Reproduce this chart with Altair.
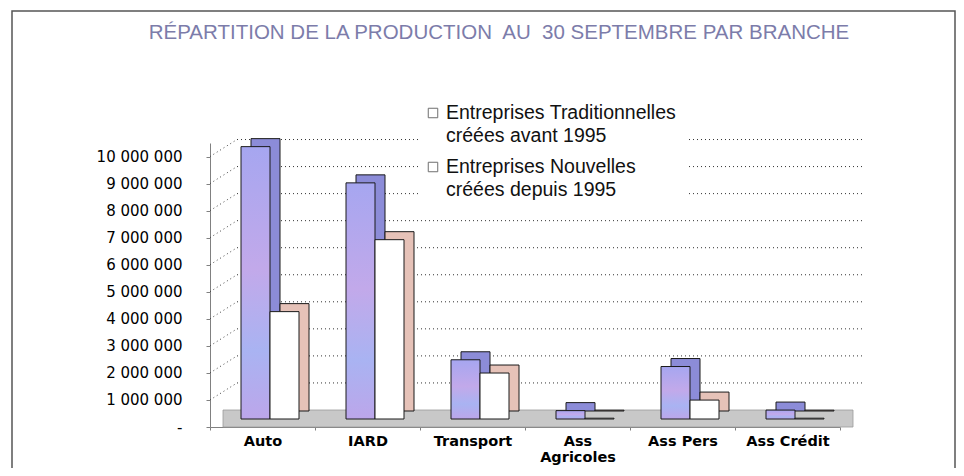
import altair as alt
import pandas as pd

# ---- data ----
categories = ["Auto", "IARD", "Transport", "Ass Agricoles", "Ass Pers", "Ass Crédit"]
traditionnelles = [10070000, 8730000, 2190000, 310000, 1940000, 330000]
nouvelles = [3970000, 6630000, 1700000, 30000, 700000, 30000]
tick_values = [0, 1000000, 2000000, 3000000, 4000000, 5000000,
               6000000, 7000000, 8000000, 9000000, 10000000]
title_text = "RÉPARTITION DE LA PRODUCTION\u00a0 AU\u00a0 30 SEPTEMBRE PAR BRANCHE"
legend_lines_1 = ["Entreprises Traditionnelles", "créées avant 1995"]
legend_lines_2 = ["Entreprises Nouvelles", "créées depuis 1995"]

df_t = pd.DataFrame({"cat": categories, "value": traditionnelles})
df_n = pd.DataFrame({"cat": categories, "value": nouvelles})
df_grid = pd.DataFrame({"value": tick_values[1:]})

W, H = 630, 284

xscale = alt.Scale(domain=categories, paddingInner=0, paddingOuter=0)
yscale = alt.Scale(domain=[0, 10500000], nice=False, zero=True)

xaxis = alt.Axis(title=None, labelAngle=0, labelFont="DejaVu Sans", labelFontWeight="bold",
                 labelFontSize=14.5, labelColor="black", labelPadding=4, tickBand="extent",
                 tickSize=3, tickColor="#808080", domainColor="#808080", grid=False,
                 labelLineHeight=16.5,
                 labelExpr="datum.value == 'Ass Agricoles' ? ['Ass', 'Agricoles'] : datum.value")
yaxis = alt.Axis(title=None, values=tick_values, grid=False, labelFont="DejaVu Sans",
                 labelFontSize=15, labelColor="black", labelPadding=24, tickSize=4,
                 tickColor="#808080", domainColor="#808080",
                 labelExpr="datum.value == 0 ? '-' : replace(replace(format(datum.value, ',d'), ',', ' '), ',', ' ')")

X = alt.X("cat:N", scale=xscale, axis=xaxis, sort=categories)
Y = alt.Y("value:Q", scale=yscale, axis=yaxis)

DX, DY = 27, -17   # back-wall offset
BW = 29            # bar width
BX, BY = 10, -8    # bar depth

one = pd.DataFrame({"a": [0]})

# frame around chart
frame = alt.Chart(one).mark_rect(
    fill="white", fillOpacity=0, stroke="#555555", strokeWidth=1.5
).encode(x=alt.value(-198), x2=alt.value(745), y=alt.value(-132), y2=alt.value(400))

# side wall diagonal gridlines
side_grid = alt.Chart(df_grid).mark_rule(
    color="#444444", strokeDash=[1, 3], strokeWidth=1, y2Offset=DY
).encode(x=alt.value(0), x2=alt.value(DX), y=Y, y2="value:Q")

# back wall gridlines
back_grid = alt.Chart(df_grid).mark_rule(
    color="#333333", strokeDash=[1, 3], strokeWidth=1, yOffset=DY
).encode(x=alt.value(DX), x2=alt.value(W + 25), y=Y)

# floor
floor = alt.Chart(one).mark_rect(
    fill="#c8c8c8", stroke="#9a9a9a", strokeWidth=0.8
).encode(x=alt.value(13), x2=alt.value(W + 13), y=alt.value(H + DY), y2=alt.value(H))

# legend background
leg_bg = alt.Chart(one).mark_rect(fill="white").encode(
    x=alt.value(210), x2=alt.value(476), y=alt.value(-48), y2=alt.value(62))

blue_grad = alt.LinearGradient(
    gradient="linear", x1=0, x2=0, y1=0, y2=1,
    stops=[alt.GradientStop(color="#a6a6f0", offset=0),
           alt.GradientStop(color="#c2a9ea", offset=0.45),
           alt.GradientStop(color="#a9b3f2", offset=0.75),
           alt.GradientStop(color="#bca6ea", offset=1)])


def bar_layer(df, fill, xoff, yoff):
    return alt.Chart(df).mark_bar(
        width=BW, fill=fill, stroke="#1a1a1a", strokeWidth=1,
        xOffset=xoff, x2Offset=xoff, yOffset=yoff, y2Offset=yoff
    ).encode(x=X, y=Y)


blue_depth = bar_layer(df_t, "#8c8cd8", -7 + BX, -8 + BY)
blue_front = bar_layer(df_t, blue_grad, -7, -8)
white_depth = bar_layer(df_n, "#e6c2b8", 22 + BX, -8 + BY)
white_front = bar_layer(df_n, "#ffffff", 22, -8)

# manual legend
legend_layers = []
for lines, y0 in [(legend_lines_1, -30), (legend_lines_2, 24)]:
    legend_layers.append(
        alt.Chart(one).mark_square(size=90, filled=False, stroke="#333333", strokeWidth=1)
        .encode(x=alt.value(223), y=alt.value(y0)))
    for i, line in enumerate(lines):
        legend_layers.append(
            alt.Chart(pd.DataFrame({"t": [line]})).mark_text(
                align="left", baseline="middle", font="Liberation Sans", fontSize=19.5,
                color="#111111"
            ).encode(x=alt.value(236), y=alt.value(y0 + i * 23), text="t:N"))

title = alt.Chart(pd.DataFrame({"t": [title_text]})).mark_text(
    align="center", baseline="middle", font="Liberation Sans", fontSize=20.5, color="#7c7caa"
).encode(x=alt.value(289), y=alt.value(-110), text="t:N")

chart = alt.layer(
    frame, side_grid, back_grid, floor, leg_bg,
    blue_depth, blue_front, white_depth, white_front,
    *legend_layers, title
).properties(
    width=W, height=H,
    autosize=alt.AutoSizeParams(type="none"),
    padding={"left": 202, "top": 135, "right": 116, "bottom": 41},
    background="white"
).configure_view(stroke=None)

chart.save("out.html", embed_options={"renderer": "svg", "actions": False})
